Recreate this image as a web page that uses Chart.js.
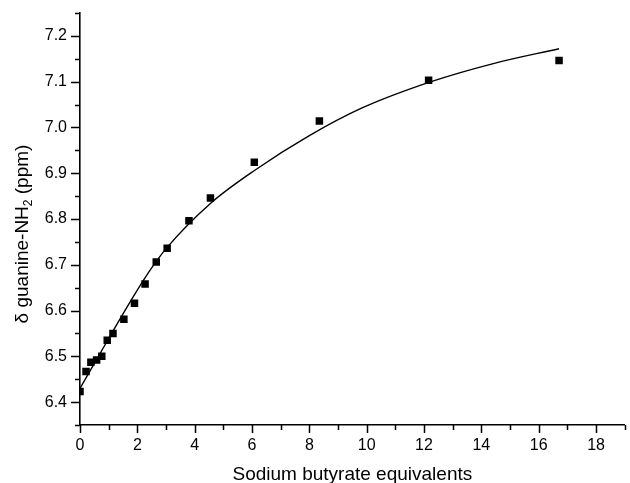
<!DOCTYPE html>
<html>
<head>
<meta charset="utf-8">
<script src="https://cdn.jsdelivr.net/npm/chart.js@4.4.1/dist/chart.umd.min.js"></script>
<style>
  body { margin: 0; background: #fff; }
  #wrap { width: 630px; height: 483px; position: relative; }
</style>
</head>
<body>
<div id="wrap"><canvas id="chart"></canvas></div>
<script>
// measured points
const pointX = [0, 0.21, 0.38, 0.58, 0.76, 0.95, 1.15, 1.53, 1.90, 2.27, 2.66, 3.04, 3.80, 4.55, 6.08, 8.35, 12.16, 16.71];
const pointY = [6.423, 6.467, 6.487, 6.492, 6.500, 6.535, 6.550, 6.581, 6.616, 6.658, 6.706, 6.736, 6.796, 6.846, 6.924, 7.014, 7.103, 7.146];

// fitted curve
const curveX = [0, 0.9, 1.76, 2.41, 3.04, 4.55, 6.11, 7.97, 9.82, 12.25, 14.45, 16.71];
const curveY = [6.43, 6.528, 6.62, 6.685, 6.738, 6.834, 6.907, 6.981, 7.042, 7.100, 7.140, 7.172];

const xTicks = [0, 2, 4, 6, 8, 10, 12, 14, 16, 18];
const yTicks = [6.4, 6.5, 6.6, 6.7, 6.8, 6.9, 7.0, 7.1, 7.2];
const xMinorTicks = [1, 3, 5, 7, 9, 11, 13, 15, 17, 19];
const yMinorTicks = [6.35, 6.45, 6.55, 6.65, 6.75, 6.85, 6.95, 7.05, 7.15, 7.25];

const xTitle = "Sodium butyrate equivalents";
const yTitle = ["\u03b4 guanine-NH", "2", " (ppm)"];

const font = "Arial, 'Liberation Sans', sans-serif";

// outward tick marks and axis titles
const axisExtras = {
  id: "axisExtras",
  afterDraw(chart) {
    const ctx = chart.ctx;
    const xs = chart.scales.x;
    const ys = chart.scales.y;
    const area = chart.chartArea;
    ctx.save();
    ctx.strokeStyle = "#000";
    ctx.lineWidth = 1.5;
    ctx.beginPath();
    xTicks.forEach((v) => {
      const px = Math.round(xs.getPixelForValue(v)) + 0.5;
      ctx.moveTo(px, area.bottom);
      ctx.lineTo(px, area.bottom + 8);
    });
    xMinorTicks.forEach((v) => {
      const px = Math.round(xs.getPixelForValue(v)) + 0.5;
      ctx.moveTo(px, area.bottom);
      ctx.lineTo(px, area.bottom + 5);
    });
    yTicks.forEach((v) => {
      const py = Math.round(ys.getPixelForValue(v)) + 0.5;
      ctx.moveTo(area.left, py);
      ctx.lineTo(area.left - 9, py);
    });
    yMinorTicks.forEach((v) => {
      const py = Math.round(ys.getPixelForValue(v)) + 0.5;
      ctx.moveTo(area.left, py);
      ctx.lineTo(area.left - 5, py);
    });
    ctx.stroke();

    ctx.fillStyle = "#000";
    ctx.font = "19px " + font;
    ctx.textAlign = "center";
    ctx.textBaseline = "alphabetic";
    ctx.fillText(xTitle, (area.left + area.right) / 2, 480);

    // y title, rotated, with subscript
    const big = "19px " + font;
    const small = "12px " + font;
    ctx.font = big;
    const w1 = ctx.measureText(yTitle[0]).width;
    const w3 = ctx.measureText(yTitle[2]).width;
    ctx.font = small;
    const w2 = ctx.measureText(yTitle[1]).width;
    const total = w1 + w2 + w3;
    ctx.translate(28, 234);
    ctx.rotate(-Math.PI / 2);
    ctx.textAlign = "left";
    let pos = -total / 2;
    ctx.font = big;
    ctx.fillText(yTitle[0], pos, 0);
    pos += w1;
    ctx.font = small;
    ctx.fillText(yTitle[1], pos, 4);
    pos += w2;
    ctx.font = big;
    ctx.fillText(yTitle[2], pos, 0);
    ctx.restore();
  }
};

new Chart(document.getElementById("chart"), {
  type: "scatter",
  data: {
    datasets: [
      {
        label: "fit",
        type: "line",
        data: curveX.map((x, i) => ({ x: x, y: curveY[i] })),
        borderColor: "#000",
        borderWidth: 1.4,
        pointRadius: 0,
        fill: false,
        cubicInterpolationMode: "monotone",
      },
      {
        label: "data",
        data: pointX.map((x, i) => ({ x: x, y: pointY[i] })),
        pointStyle: "rect",
        pointRadius: 5.3,
        backgroundColor: "#000",
        borderColor: "#000",
        borderWidth: 0,
      },
    ],
  },
  options: {
    responsive: true,
    maintainAspectRatio: false,
    animation: false,
    layout: { padding: { top: 13, right: 3, left: 0, bottom: 0 } },
    plugins: {
      legend: { display: false },
      tooltip: { enabled: false },
    },
    scales: {
      x: {
        type: "linear",
        min: 0,
        max: 19,
        afterBuildTicks: (scale) => {
          scale.ticks = xTicks.map((v) => ({ value: v }));
        },
        afterFit: (scale) => {
          scale.height = 58;
          scale.paddingLeft = 0;
          scale.paddingRight = 0;
        },
        grid: { display: false, drawTicks: false },
        border: { display: true, color: "#000", width: 1.6 },
        ticks: {
          color: "#000",
          font: { family: font, size: 16 },
          padding: 11,
          maxRotation: 0,
          autoSkip: false,
        },
      },
      y: {
        type: "linear",
        min: 6.35,
        max: 7.25,
        afterBuildTicks: (scale) => {
          scale.ticks = yTicks.map((v) => ({ value: v }));
        },
        afterFit: (scale) => {
          scale.width = 80;
          scale.paddingTop = 0;
          scale.paddingBottom = 0;
        },
        grid: { display: false, drawTicks: false },
        border: { display: true, color: "#000", width: 1.6 },
        ticks: {
          color: "#000",
          font: { family: font, size: 16 },
          padding: 13,
          autoSkip: false,
          callback: (v) => v.toFixed(1),
        },
      },
    },
  },
  plugins: [axisExtras],
});
</script>
</body>
</html>
